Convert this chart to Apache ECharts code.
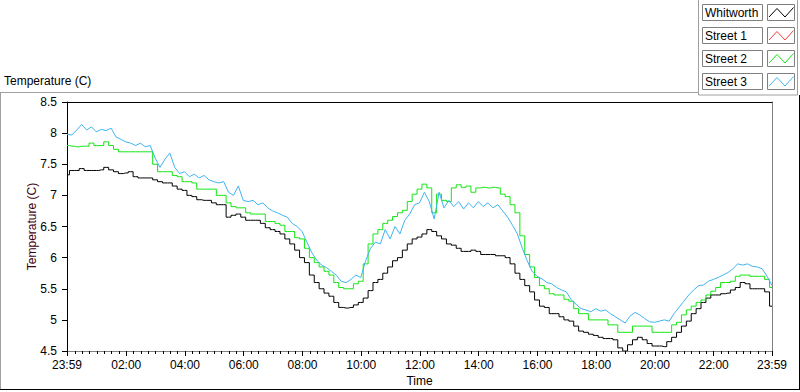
<!DOCTYPE html>
<html><head><meta charset="utf-8">
<script src="https://cdn.jsdelivr.net/npm/echarts@6/dist/echarts.min.js"></script>
<style>html,body{margin:0;padding:0;background:#fff;}#chart{width:800px;height:392px;}</style>
</head><body><div id="chart"></div>
<script>
// ---- data ----
const seriesNames = ['Whitworth', 'Street 1', 'Street 2', 'Street 3'];
const seriesColors = ['#000000', '#ff3a3a', '#12e612', '#3fb4f0'];
const startMinute = -1;      // 23:59 of the previous day
const stepMinutes = 10;      // sampling step of the arrays below

const whitworth = [
 7.33,7.40,7.40,7.43,7.40,7.40,7.40,7.41,7.45,7.41,
 7.38,7.35,7.36,7.38,7.30,7.28,7.28,7.28,7.25,7.22,
 7.20,7.20,7.15,7.10,7.08,7.00,6.98,6.93,6.92,6.92,
 6.88,6.85,6.85,6.65,6.68,6.70,6.65,6.60,6.60,6.60,
 6.55,6.48,6.45,6.42,6.38,6.30,6.22,6.12,6.00,5.92,
 5.72,5.60,5.50,5.43,5.38,5.28,5.20,5.19,5.20,5.24,
 5.28,5.35,5.47,5.60,5.65,5.75,5.85,5.95,6.00,6.12,
 6.22,6.30,6.33,6.38,6.45,6.42,6.35,6.30,6.22,6.20,
 6.15,6.10,6.10,6.12,6.10,6.05,6.05,6.05,6.03,6.03,
 6.00,5.90,5.75,5.65,5.55,5.45,5.32,5.22,5.20,5.10,
 5.10,5.05,5.00,4.98,4.90,4.82,4.80,4.77,4.75,4.72,
 4.70,4.70,4.68,4.55,4.50,4.60,4.68,4.72,4.68,4.62,
 4.58,4.58,4.57,4.65,4.72,4.80,4.90,4.98,5.10,5.18,
 5.28,5.35,5.40,5.40,5.42,5.43,5.48,5.52,5.60,5.58,
 5.50,5.50,5.50,5.45,5.22
];
const street1 = [];
const street2 = [
 7.80,7.79,7.78,7.79,7.79,7.84,7.80,7.80,7.86,7.80,
 7.74,7.70,7.70,7.70,7.70,7.70,7.70,7.70,7.50,7.38,
 7.38,7.38,7.32,7.30,7.22,7.22,7.20,7.10,7.10,7.10,
 7.10,7.00,7.00,6.88,6.82,6.80,6.80,6.72,6.70,6.70,
 6.70,6.58,6.58,6.55,6.52,6.42,6.42,6.32,6.30,6.15,
 6.00,5.92,5.85,5.78,5.72,5.60,5.52,5.50,5.50,5.58,
 5.62,5.90,6.22,6.38,6.45,6.55,6.60,6.66,6.72,6.76,
 6.90,7.02,7.10,7.18,7.12,6.72,7.02,6.92,6.90,7.12,
 7.17,7.13,7.15,7.05,7.12,7.13,7.12,7.13,7.12,7.02,
 6.98,6.85,6.72,6.35,6.05,5.85,5.68,5.55,5.50,5.42,
 5.40,5.40,5.33,5.30,5.18,5.10,5.10,5.00,5.00,5.00,
 5.00,4.92,4.92,4.80,4.80,4.80,4.90,4.90,4.90,4.90,
 4.80,4.80,4.80,4.80,4.92,4.96,5.08,5.16,5.22,5.28,
 5.32,5.40,5.46,5.52,5.60,5.60,5.62,5.70,5.72,5.72,
 5.70,5.70,5.70,5.65,5.52
];
const street3 = [
 7.98,7.97,8.05,8.14,8.05,8.10,8.02,8.06,8.04,8.08,
 7.94,7.90,7.86,7.84,7.80,7.84,7.78,7.80,7.60,7.45,
 7.58,7.68,7.45,7.35,7.38,7.30,7.34,7.28,7.32,7.25,
 7.22,7.20,7.22,7.05,7.00,7.15,6.92,6.90,6.92,6.85,
 6.88,6.80,6.75,6.72,6.68,6.65,6.55,6.50,6.42,6.25,
 6.08,5.96,5.88,5.84,5.78,5.72,5.62,5.60,5.65,5.72,
 5.68,5.95,6.15,6.25,6.22,6.45,6.30,6.50,6.38,6.60,
 6.70,6.85,6.88,7.05,6.90,6.62,7.05,6.80,6.92,6.82,
 6.90,6.78,6.88,6.80,6.90,6.82,6.88,6.80,6.85,6.75,
 6.65,6.52,6.38,6.15,5.95,5.78,5.70,5.66,5.60,5.58,
 5.52,5.48,5.45,5.32,5.25,5.18,5.16,5.13,5.18,5.14,
 5.16,5.10,5.05,5.00,4.95,5.06,5.12,5.08,5.02,4.97,
 4.96,4.98,5.00,4.98,5.10,5.20,5.30,5.40,5.48,5.55,
 5.56,5.62,5.65,5.68,5.72,5.76,5.82,5.90,5.88,5.90,
 5.86,5.85,5.82,5.70,5.55
];

const xTickMinutes = [-1, 120, 240, 360, 480, 600, 720, 840, 960, 1080, 1200, 1320, 1439];
const xTickLabels = ['23:59','02:00','04:00','06:00','08:00','10:00','12:00','14:00','16:00','18:00','20:00','22:00','23:59'];
const minorTickStep = 15;
const yMin = 4.5, yMax = 8.5, yStep = 0.5;
const xMin = -1, xMax = 1439;

// ---- build ----
const FONT = 'Liberation Sans';
const toPairs = arr => arr.map((v, i) => [startMinute + i * stepMinutes, v]);
const minorTicks = [];
for (let m = minorTickStep; m < xMax; m += minorTickStep) if (m % 120 !== 0) minorTicks.push(m);

const allData = [whitworth, street1, street2, street3];
const series = allData.map((arr, k) => ({
  name: seriesNames[k], type: 'line', data: toPairs(arr),
  xAxisIndex: 0, yAxisIndex: 0,
  showSymbol: false, symbol: 'none',
  step: k === 3 ? false : 'middle',
  lineStyle: { color: seriesColors[k], width: 1 },
  itemStyle: { color: seriesColors[k] },
  emphasis: { disabled: true }, silent: true
}));

// legend built from the names / colours
const legendEls = [{
  type: 'rect', shape: { x: 698.5, y: -2, width: 99, height: 97 },
  style: { fill: '#fff', stroke: '#a0a0a0', lineWidth: 1 }
}];
seriesNames.forEach((n, i) => {
  const y0 = 4.5 + i * 23;
  legendEls.push({ type: 'rect', shape: { x: 702.5, y: y0, width: 60, height: 16 },
    style: { fill: '#fff', stroke: '#808080', lineWidth: 1 } });
  legendEls.push({ type: 'text', x: 705, y: y0 + 8,
    style: { text: n, fill: '#000', font: '12px "' + FONT + '"', verticalAlign: 'middle', align: 'left' } });
  legendEls.push({ type: 'rect', shape: { x: 767.5, y: y0, width: 27, height: 16 },
    style: { fill: '#fff', stroke: '#808080', lineWidth: 1 } });
  legendEls.push({ type: 'polyline', shape: { points: [[769, y0 + 12.5], [777, y0 + 4], [785, y0 + 12.5], [793.5, y0 + 3]] },
    style: { stroke: seriesColors[i], lineWidth: 1, fill: null } });
});

const frameEls = [
  { type: 'line', shape: { x1: 0, y1: 92.5, x2: 698, y2: 92.5 }, style: { stroke: '#a0a0a0', lineWidth: 1 } },
  { type: 'line', shape: { x1: 0.5, y1: 92, x2: 0.5, y2: 390 }, style: { stroke: '#a0a0a0', lineWidth: 1 } },
  { type: 'line', shape: { x1: 0, y1: 389.5, x2: 800, y2: 389.5 }, style: { stroke: '#000', lineWidth: 1 } },
  { type: 'line', shape: { x1: 799.5, y1: 95, x2: 799.5, y2: 390 }, style: { stroke: '#000', lineWidth: 1 } }
];

const chart = echarts.init(document.getElementById('chart'), null, { renderer: 'svg' });
chart.setOption({
  animation: false,
  backgroundColor: '#fff',
  textStyle: { fontFamily: FONT },
  title: { text: 'Temperature (C)', left: 4, top: 75, padding: 0,
    textStyle: { fontSize: 12, fontWeight: 'normal', color: '#000', fontFamily: FONT } },
  grid: { left: 67, top: 102, width: 705, height: 250, containLabel: false },
  xAxis: [
    { type: 'value', min: xMin, max: xMax, position: 'bottom',
      axisLine: { show: true, onZero: false, lineStyle: { color: '#808080', width: 1 } },
      axisTick: { show: true, customValues: xTickMinutes, length: 5, lineStyle: { color: '#000' } },
      axisLabel: { customValues: xTickMinutes, margin: 8, color: '#000', fontSize: 12, fontFamily: FONT,
        formatter: v => xTickLabels[xTickMinutes.indexOf(v)] || '' },
      splitLine: { show: false },
      name: 'Time', nameLocation: 'middle', nameGap: 24, nameMoveOverlap: false,
      nameTextStyle: { color: '#000', fontSize: 12, fontFamily: FONT } },
    { type: 'value', min: xMin, max: xMax, position: 'bottom',
      axisLine: { show: false }, axisLabel: { show: false }, splitLine: { show: false },
      axisTick: { show: true, customValues: minorTicks, length: 3, lineStyle: { color: '#000' } } },
    { type: 'value', min: xMin, max: xMax, position: 'top',
      axisLine: { show: true, onZero: false, lineStyle: { color: '#000', width: 1 } },
      axisTick: { show: false }, axisLabel: { show: false }, splitLine: { show: false } }
  ],
  yAxis: [
    { type: 'value', min: yMin, max: yMax, interval: yStep, position: 'left',
      axisLine: { show: true, onZero: false, lineStyle: { color: '#000', width: 1 } },
      axisTick: { show: true, length: 5, lineStyle: { color: '#000' } },
      axisLabel: { margin: 10, color: '#000', fontSize: 12, fontFamily: FONT },
      splitLine: { show: false },
      name: 'Temperature (C)', nameLocation: 'middle', nameGap: 29, nameRotate: 90, nameMoveOverlap: false,
      nameTextStyle: { color: '#400010', fontSize: 12, fontFamily: FONT } },
    { type: 'value', min: yMin, max: yMax, position: 'right',
      axisLine: { show: true, onZero: false, lineStyle: { color: '#808080', width: 1 } },
      axisTick: { show: false }, axisLabel: { show: false }, splitLine: { show: false } }
  ],
  graphic: frameEls.concat(legendEls),
  series: series
});
</script></body></html>
